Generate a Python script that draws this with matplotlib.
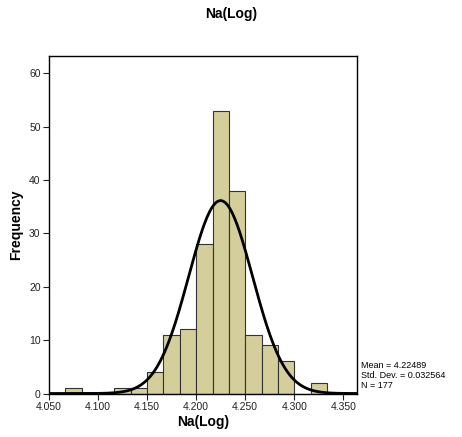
import numpy as np
from matplotlib import pyplot as plt

plt.rcParams.update({
    "font.family": ["Liberation Sans", "DejaVu Sans"],
    "axes.linewidth": 1.0,
})

# Histogram of Na(Log): bin edges (width 0.05/3) and counts
bin_edges = np.array([4.05 + i * 0.05 / 3 for i in range(19)])
counts = [0, 1, 0, 0, 1, 1, 4, 11, 12, 28, 53, 38, 11, 9, 6, 0, 2, 0]

mean_val = 4.22489
std_val = 0.032564
n_val = 177

fig = plt.figure(figsize=(4.62, 4.37), dpi=100)
ax = fig.add_axes([0.106, 0.0995, 0.667, 0.772])

widths = np.diff(bin_edges)
ax.bar(bin_edges[:-1], counts, width=widths, align='edge',
       color='#d4cf9a', edgecolor='#333333', linewidth=0.8)

# normal curve scaled to counts
bw = widths[0]
xs = np.linspace(4.05, 4.365, 400)
ys = n_val * bw / (std_val * np.sqrt(2 * np.pi)) * np.exp(-0.5 * ((xs - mean_val) / std_val) ** 2)
ax.plot(xs, ys, color='black', lw=2)

ax.set_xlim(4.05, 4.364)
ax.set_ylim(0, 63.2)
ax.set_xticks([4.05, 4.10, 4.15, 4.20, 4.25, 4.30, 4.35])
ax.set_xticklabels(["%.3f" % v for v in ax.get_xticks()])
ax.set_yticks(range(0, 61, 10))
ax.tick_params(labelsize=7.5, length=4, width=0.8, colors='#222222', pad=2)

ax.set_xlabel("Na(Log)", fontsize=10, fontweight='bold', labelpad=2)
ax.set_ylabel("Frequency", fontsize=10, fontweight='bold', labelpad=4)
fig.text(0.5, 0.968, "Na(Log)", ha='center', va='center', fontsize=10, fontweight='bold')

fig.text(0.781, 0.140, "Mean = %.5f\nStd. Dev. = %.6f\nN = %d" % (mean_val, std_val, n_val),
         ha='left', va='center', fontsize=6.5, linespacing=1.12)

plt.savefig("out.png", dpi=100)
